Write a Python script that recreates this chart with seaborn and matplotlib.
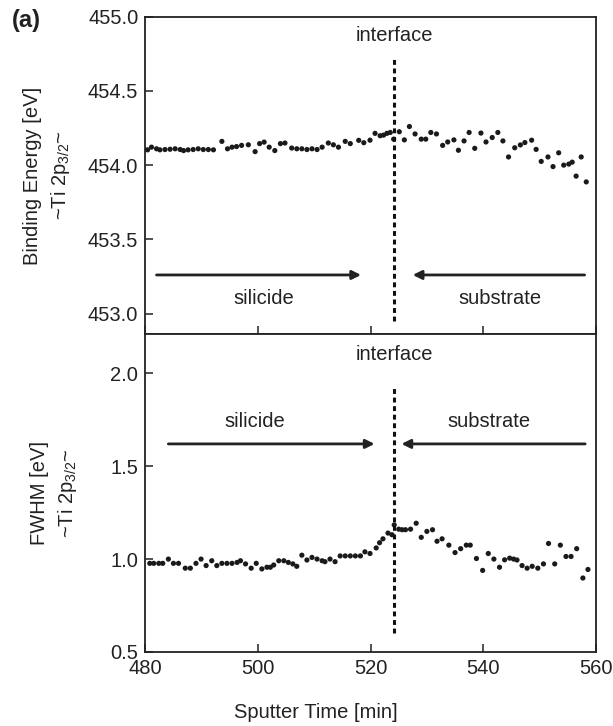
import matplotlib
matplotlib.use("Agg")
import matplotlib.pyplot as plt
import numpy as np
import pandas as pd
import seaborn as sns

# Ti 2p3/2 binding energy vs sputter time
be_time = [480.4, 481.1, 482.0, 482.6, 483.5, 484.4, 485.3, 486.2, 486.8, 487.6,
           488.5, 489.4, 490.3, 491.2, 492.1, 493.6, 494.6, 495.4, 496.2, 497.1,
           498.3, 499.5, 500.3, 501.1, 502.0, 503.0, 504.0, 504.8, 506.0, 506.9,
           507.8, 508.7, 509.6, 510.5, 511.4, 512.5, 513.4, 514.3, 515.5, 516.4,
           517.9, 518.8, 519.9, 520.8, 521.7, 522.3, 522.9, 523.5, 524.1, 525.1,
           526.0, 526.9, 527.9, 529.0, 529.8, 530.7, 531.7, 532.8, 533.7, 534.8,
           535.6, 536.6, 537.5, 538.5, 539.6, 540.5, 541.6, 542.6, 543.5, 544.5,
           545.6, 546.6, 547.4, 548.6, 549.4, 550.3, 551.5, 552.4, 553.4, 554.3,
           555.2, 555.8, 556.5, 557.4, 558.3]
be_value = [454.103, 454.121, 454.110, 454.103, 454.105, 454.107, 454.110, 454.105, 454.098, 454.103,
            454.105, 454.110, 454.105, 454.105, 454.103, 454.160, 454.110, 454.121, 454.125, 454.133,
            454.137, 454.091, 454.145, 454.155, 454.121, 454.098, 454.145, 454.149, 454.115, 454.110,
            454.110, 454.105, 454.110, 454.105, 454.121, 454.149, 454.137, 454.121, 454.160, 454.145,
            454.167, 454.151, 454.168, 454.214, 454.198, 454.202, 454.214, 454.220, 454.175, 454.225,
            454.170, 454.260, 454.210, 454.175, 454.175, 454.220, 454.210, 454.133, 454.156, 454.170,
            454.100, 454.163, 454.220, 454.113, 454.216, 454.156, 454.186, 454.220, 454.163, 454.055,
            454.117, 454.136, 454.152, 454.168, 454.106, 454.025, 454.055, 453.990, 454.083, 454.000,
            454.007, 454.020, 453.926, 454.055, 453.887]

# FWHM vs sputter time
fw_time = [480.8, 481.5, 482.4, 483.1, 484.1, 485.0, 485.9, 487.1, 488.0, 489.0,
           489.9, 490.8, 491.8, 492.7, 493.6, 494.5, 495.4, 496.3, 496.9, 497.8,
           498.8, 499.7, 500.7, 501.6, 502.2, 502.8, 503.7, 504.6, 505.4, 506.2,
           506.9, 507.8, 508.7, 509.6, 510.5, 511.4, 511.9, 512.8, 513.7, 514.6,
           515.5, 516.4, 517.3, 518.2, 519.0, 519.9, 521.0, 521.6, 522.2, 523.1,
           523.8, 524.2, 525.0, 525.6, 526.2, 527.1, 528.1, 529.0, 530.0, 531.0,
           531.8, 532.7, 533.9, 535.0, 536.0, 537.0, 537.7, 538.8, 539.9, 540.9,
           541.9, 542.9, 543.8, 544.7, 545.4, 546.0, 546.9, 547.8, 548.7, 549.7,
           550.7, 551.6, 552.7, 553.7, 554.7, 555.6, 556.6, 557.7, 558.6]
fw_value = [0.977, 0.977, 0.977, 0.977, 1.000, 0.977, 0.977, 0.951, 0.951, 0.977,
            1.000, 0.965, 0.991, 0.965, 0.977, 0.977, 0.977, 0.982, 0.991, 0.974,
            0.951, 0.977, 0.947, 0.956, 0.956, 0.968, 0.991, 0.991, 0.982, 0.974,
            0.961, 1.021, 0.995, 1.009, 1.000, 0.991, 0.986, 1.000, 0.986, 1.017,
            1.017, 1.017, 1.017, 1.017, 1.039, 1.030, 1.060, 1.088, 1.109, 1.140,
            1.131, 1.184, 1.161, 1.158, 1.158, 1.161, 1.193, 1.117, 1.149, 1.158,
            1.096, 1.109, 1.075, 1.035, 1.056, 1.075, 1.075, 1.003, 0.939, 1.030,
            1.000, 0.956, 0.996, 1.005, 1.000, 0.995, 0.965, 0.951, 0.961, 0.951,
            0.974, 1.084, 0.974, 1.075, 1.014, 1.014, 1.056, 0.898, 0.944]

interface_time = 524.2
be_ticks = [453.0, 453.5, 454.0, 454.5, 455.0]
fw_ticks = [0.5, 1.0, 1.5, 2.0]
time_ticks = [480, 500, 520, 540, 560]

be_df = pd.DataFrame({"time": be_time, "value": be_value})
fw_df = pd.DataFrame({"time": fw_time, "value": fw_value})

sns.set_style("ticks")
plt.rcParams['font.family'] = ['Liberation Sans', 'DejaVu Sans']
plt.rcParams['mathtext.fontset'] = 'custom'
plt.rcParams['mathtext.rm'] = 'Liberation Sans'
plt.rcParams['mathtext.it'] = 'Liberation Sans:italic'

FS = 14.5
INK = '#222222'

fig, (ax1, ax2) = plt.subplots(2, 1, sharex=True, figsize=(6.13, 7.26), dpi=100)
fig.subplots_adjust(left=0.237, right=0.972, top=0.977, bottom=0.102, hspace=0)

sns.scatterplot(data=be_df, x="time", y="value", ax=ax1, color="#1a1a1a",
                s=14, edgecolor="none", legend=False)
sns.scatterplot(data=fw_df, x="time", y="value", ax=ax2, color="#1a1a1a",
                s=14, edgecolor="none", legend=False)

ax1.set_ylim(452.86, 455.0)
ax2.set_ylim(0.5, 2.21)
ax1.set_xlim(480, 560)
ax1.set_yticks(be_ticks)
ax1.set_yticklabels([f"{v:.1f}" for v in be_ticks])
ax2.set_yticks(fw_ticks)
ax2.set_yticklabels([f"{v:.1f}" for v in fw_ticks])
ax2.set_xticks(time_ticks)

for ax in (ax1, ax2):
    ax.tick_params(direction='in', length=6, width=1.1, labelsize=FS, pad=5,
                   colors=INK)
    for sp in ax.spines.values():
        sp.set_linewidth(1.3)
        sp.set_color(INK)
    ax.set_xlabel("")
ax1.tick_params(axis='x', labelbottom=False)

dash = (0, (1.6, 1.2))
ax1.vlines(interface_time, 452.95, 454.72, colors='#111111', lw=2.2, linestyles=[dash])
ax2.vlines(interface_time, 0.6, 1.93, colors='#111111', lw=2.2, linestyles=[dash])

txt = dict(fontsize=FS, ha='center', va='center', color=INK)
ax1.text(interface_time, 454.87, "interface", **txt)
ax2.text(interface_time, 2.1, "interface", **txt)

arrow = dict(arrowstyle='-|>', lw=2, color=INK, mutation_scale=13)
ax1.annotate("", xy=(518.8, 453.26), xytext=(481.5, 453.26), arrowprops=arrow)
ax1.annotate("", xy=(527.0, 453.26), xytext=(558.5, 453.26), arrowprops=arrow)
ax1.text(501.0, 453.1, "silicide", **txt)
ax1.text(543.0, 453.1, "substrate", **txt)

ax2.annotate("", xy=(521.2, 1.62), xytext=(483.6, 1.62), arrowprops=arrow)
ax2.annotate("", xy=(525.0, 1.62), xytext=(558.6, 1.62), arrowprops=arrow)
ax2.text(499.5, 1.74, "silicide", **txt)
ax2.text(541.0, 1.74, "substrate", **txt)

ax1.set_ylabel("Binding Energy [eV]\n~Ti 2p$_{3/2}$~", fontsize=FS,
               linespacing=1.4, color=INK)
ax2.set_ylabel("FWHM [eV]\n~Ti 2p$_{3/2}$~", fontsize=FS,
               linespacing=1.4, color=INK)
ax1.yaxis.set_label_coords(-0.163, 0.5)
ax2.yaxis.set_label_coords(-0.148, 0.5)

fig.text(316 / 613, 0.019, "Sputter Time [min]", fontsize=FS,
         ha='center', va='center', color=INK)
fig.text(0.02, 0.972, "(a)", fontsize=17, fontweight='bold', ha='left',
         va='center', color=INK)

fig.savefig("out.png", dpi=100)
